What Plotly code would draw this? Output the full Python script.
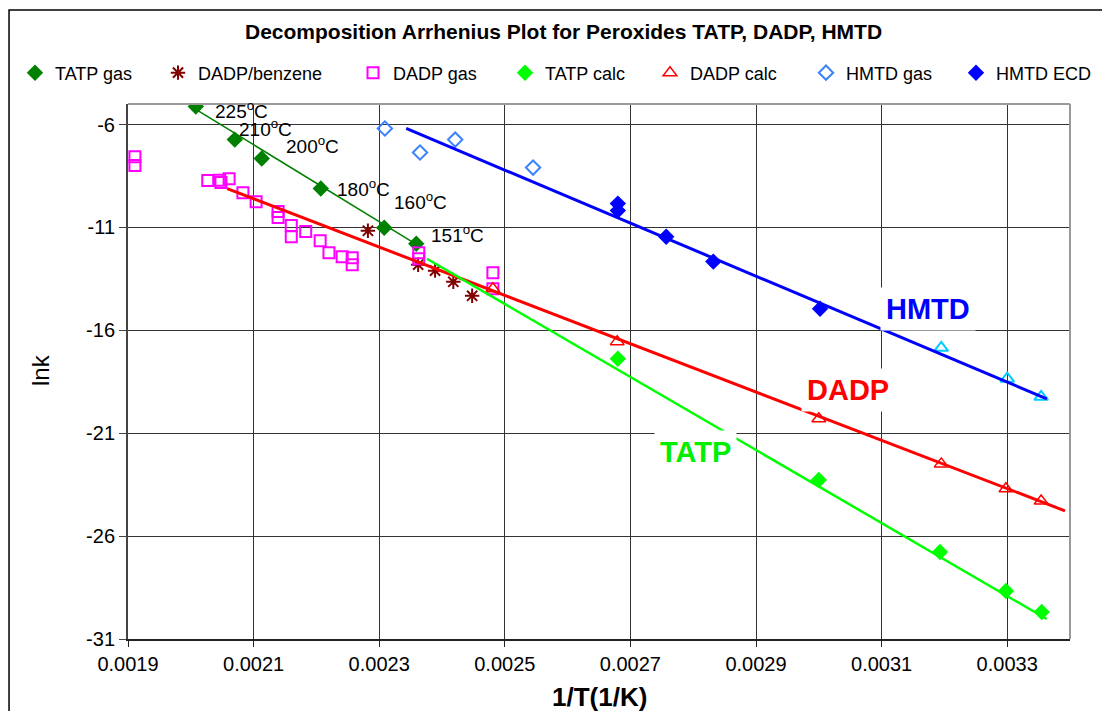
import plotly.graph_objects as go

# ---------------- data ----------------
tatp_gas_x = [0.002008, 0.002070, 0.002113, 0.002207, 0.002308, 0.002359]
tatp_gas_y = [-5.12, -6.73, -7.65, -9.11, -11.01, -11.79]
tatp_gas_labels = ["225<sup>o</sup>C", "210<sup>o</sup>C", "200<sup>o</sup>C",
                   "180<sup>o</sup>C", "160<sup>o</sup>C", "151<sup>o</sup>C"]
tatp_label_x = [0.002035, 0.002074, 0.002149, 0.002230, 0.002321, 0.002380]
tatp_label_y = [-5.27, -6.15, -6.97, -9.06, -9.70, -11.30]

dadp_benz_x = [0.002282, 0.002362, 0.002389, 0.002418, 0.002448]
dadp_benz_y = [-11.16, -12.81, -13.10, -13.64, -14.32]

dadp_gas_x = [0.001911, 0.001911, 0.002027, 0.002046, 0.002048, 0.002061, 0.002083,
              0.002104, 0.002139, 0.002139, 0.002160, 0.002160, 0.002183, 0.002206,
              0.002220, 0.002241, 0.002257, 0.002257, 0.002363, 0.002363, 0.002481,
              0.002481]
dadp_gas_y = [-7.56, -7.99, -8.72, -8.70, -8.82, -8.63, -9.31,
              -9.75, -10.23, -10.52, -10.91, -11.45, -11.20, -11.64,
              -12.23, -12.42, -12.47, -12.81, -12.23, -12.52, -13.20,
              -13.98]

tatp_calc_x = [0.002680, 0.003000, 0.003193, 0.003298, 0.003355]
tatp_calc_y = [-17.38, -23.27, -26.77, -28.67, -29.69]

dadp_calc_x = [0.002481, 0.002679, 0.003000, 0.003195, 0.003298, 0.003354]
dadp_calc_y = [-13.98, -16.55, -20.30, -22.49, -23.70, -24.29]

hmtd_gas_x = [0.002309, 0.002365, 0.002421, 0.002545]
hmtd_gas_y = [-6.19, -7.36, -6.73, -8.09]

hmtd_ecd_x = [0.002680, 0.002680, 0.002757, 0.002832, 0.003002]
hmtd_ecd_y = [-9.84, -10.18, -11.45, -12.66, -14.95]

hmtd_calc_x = [0.003195, 0.003300, 0.003354]
hmtd_calc_y = [-16.85, -18.35, -19.23]

# trend lines (end points)
tatp_gas_fit_x = [0.002010, 0.002365]
tatp_gas_fit_y = [-5.30, -11.93]
tatp_calc_fit_x = [0.002376, 0.003363]
tatp_calc_fit_y = [-12.52, -30.03]
dadp_fit_x = [0.002058, 0.003392]
dadp_fit_y = [-9.11, -24.77]
hmtd_fit_x = [0.002343, 0.003363]
hmtd_fit_y = [-6.19, -19.33]

# axis ticks
x_ticks = [0.0019, 0.0021, 0.0023, 0.0025, 0.0027, 0.0029, 0.0031, 0.0033]
x_tick_text = ["0.0019", "0.0021", "0.0023", "0.0025", "0.0027", "0.0029", "0.0031", "0.0033"]
y_ticks = [-31, -26, -21, -16, -11, -6]
y_tick_text = ["-31", "-26", "-21", "-16", "-11", "-6"]

# big inline series labels
series_labels = ["HMTD", "DADP", "TATP"]
series_label_x = [0.003174, 0.003047, 0.002803]
series_label_y = [-14.95, -18.89, -21.90]
series_label_col = ["#0000FF", "#FF0000", "#00EE00"]

FONT = "Liberation Sans, Arial, sans-serif"

# one single-entry legend per series so each entry sits where the reference has it
legend_ids = ["legend", "legend2", "legend3", "legend4", "legend5", "legend6", "legend7"]
legend_x = [-0.11996, 0.03185, 0.23885, 0.40021, 0.55414, 0.71975, 0.87898]

fig = go.Figure()

def marker_trace(x, y, name, symbol, color, size=11, lw=1.5, leg=None):
    fig.add_trace(go.Scatter(
        x=x, y=y, mode="markers", name=name, showlegend=leg is not None,
        legend=leg if leg is not None else "legend",
        marker=dict(symbol=symbol, color=color, size=size,
                    line=dict(color=color, width=lw))))

marker_trace(tatp_gas_x, tatp_gas_y, "TATP gas", "diamond", "#008000", leg=legend_ids[0])
marker_trace(dadp_benz_x, dadp_benz_y, "DADP/benzene", "asterisk-open", "#800000", size=12, lw=2, leg=legend_ids[1])
marker_trace(dadp_gas_x, dadp_gas_y, "DADP gas", "square-open", "#FF00FF", size=11, lw=2, leg=legend_ids[2])
marker_trace(tatp_calc_x, tatp_calc_y, "TATP calc", "diamond", "#00FF00", leg=legend_ids[3])
marker_trace(dadp_calc_x, dadp_calc_y, "DADP calc", "triangle-up-open", "#FF0000", size=12, lw=1.5, leg=legend_ids[4])
marker_trace(hmtd_gas_x, hmtd_gas_y, "HMTD gas", "diamond-open", "#3B82FF", size=11, lw=2, leg=legend_ids[5])
marker_trace(hmtd_ecd_x, hmtd_ecd_y, "HMTD ECD", "diamond", "#0000FF", leg=legend_ids[6])
marker_trace(hmtd_calc_x, hmtd_calc_y, "HMTD calc", "triangle-up-open", "#00CCFF", size=12, lw=2)

def line_trace(x, y, color, width):
    fig.add_trace(go.Scatter(x=x, y=y, mode="lines", showlegend=False,
                             line=dict(color=color, width=width), hoverinfo="skip"))

line_trace(tatp_gas_fit_x, tatp_gas_fit_y, "#008000", 1.5)
line_trace(dadp_fit_x, dadp_fit_y, "#FF0000", 3)
line_trace(tatp_calc_fit_x, tatp_calc_fit_y, "#00FF00", 2.5)
line_trace(hmtd_fit_x, hmtd_fit_y, "#0000FF", 3)

annotations = []
for t, xx, yy in zip(tatp_gas_labels, tatp_label_x, tatp_label_y):
    annotations.append(dict(x=xx, y=yy, xref="x", yref="y", text=t, showarrow=False,
                            xanchor="left", yanchor="middle",
                            font=dict(family=FONT, size=19, color="#000000")))
for t, xx, yy, c in zip(series_labels, series_label_x, series_label_y, series_label_col):
    annotations.append(dict(x=xx, y=yy, xref="x", yref="y", text="<b>" + t + "</b>",
                            showarrow=False, bgcolor="#FFFFFF", borderpad=5,
                            font=dict(family=FONT, size=29, color=c)))
# chart title
annotations.append(dict(x=0.4628, y=1.1346, xref="paper", yref="paper",
                        xanchor="center", yanchor="middle",
                        text="<b>Decomposition Arrhenius Plot for Peroxides TATP, DADP, HMTD</b>",
                        showarrow=False, font=dict(family=FONT, size=21, color="#000000")))
# axis titles
annotations.append(dict(x=0.5, y=-0.1084, xref="paper", yref="paper",
                        xanchor="center", yanchor="middle", showarrow=False,
                        text="<b>1/T(1/K)</b>",
                        font=dict(family=FONT, size=26, color="#000000")))
annotations.append(dict(x=-0.0934, y=0.5028, xref="paper", yref="paper",
                        xanchor="center", yanchor="middle", showarrow=False,
                        text="lnk", textangle=-90,
                        font=dict(family=FONT, size=24, color="#000000")))

shapes = [
    # outer chart border (runs off the page on right/bottom)
    dict(type="rect", xref="paper", yref="paper", x0=-0.1263, x1=1.05, y0=-0.2, y1=1.1757,
         line=dict(color="#000000", width=1.5), layer="below"),
    # top and right plot-area borders (gray)
    dict(type="line", xref="paper", yref="paper", x0=0, x1=1, y0=1, y1=1,
         line=dict(color="#9A9A9A", width=2)),
    dict(type="line", xref="paper", yref="paper", x0=1, x1=1, y0=0, y1=1,
         line=dict(color="#9A9A9A", width=2)),
]

legend_layout = {}
for lid, lx in zip(legend_ids, legend_x):
    legend_layout[lid] = dict(orientation="h", x=lx, y=1.058,
                              xanchor="left", yanchor="middle",
                              font=dict(family=FONT, size=18, color="#000000"),
                              bgcolor="rgba(0,0,0,0)", itemwidth=30)

fig.update_layout(
    width=1102, height=711,
    margin=dict(l=128, r=32, t=104, b=72, autoexpand=False),
    paper_bgcolor="#FFFFFF", plot_bgcolor="#FFFFFF",
    font=dict(family=FONT, color="#000000"),
    showlegend=True,
    annotations=annotations,
    shapes=shapes,
    xaxis=dict(range=[0.0019, 0.0034], tickvals=x_ticks, ticktext=x_tick_text,
               automargin=False,
               showgrid=True, gridcolor="#333333", gridwidth=1,
               showline=True, linecolor="#222222", linewidth=2,
               ticks="outside", ticklen=6, tickcolor="#222222",
               tickfont=dict(family=FONT, size=20, color="#000000"),
               zeroline=False),
    yaxis=dict(range=[-31, -5], tickvals=y_ticks, ticktext=y_tick_text,
               automargin=False,
               showgrid=True, gridcolor="#333333", gridwidth=1,
               showline=True, linecolor="#444444", linewidth=2,
               ticks="outside", ticklen=7, tickcolor="#444444",
               tickfont=dict(family=FONT, size=20, color="#000000"),
               zeroline=False),
    **legend_layout,
)

fig.write_html("out.html")
